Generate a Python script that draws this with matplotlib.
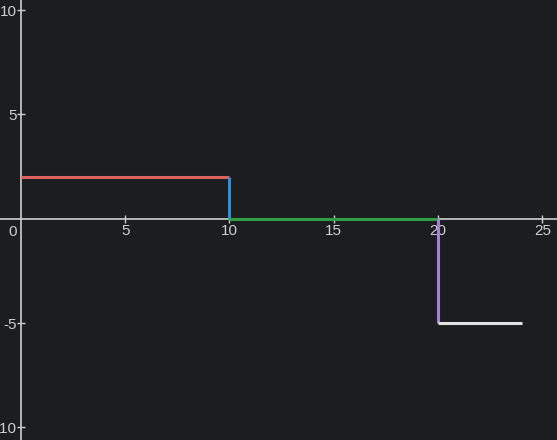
import matplotlib
matplotlib.use("Agg")
import matplotlib.pyplot as plt

# segments of the step path
seg_x = [[0, 10], [10, 10], [10, 20], [20, 20], [20, 24]]
seg_y = [[2, 2], [2, 0], [0, 0], [0, -5], [-5, -5]]
seg_colors = ["#dc635c", "#2f8fdb", "#2ea043", "#a77fd8", "#e2e2e2"]

x_ticks = [5, 10, 15, 20, 25]
y_ticks = [-10, -5, 5, 10]

bg = "#1c1d1f"
fg = "#cfcfcf"

plt.rcParams["font.family"] = ["Liberation Sans", "DejaVu Sans"]
plt.rcParams["axes.unicode_minus"] = False

fig = plt.figure(figsize=(5.57, 4.40), dpi=100, facecolor=bg)
ax = fig.add_axes([0, 0, 1, 1], facecolor=bg)

for xs, ys, c in zip(seg_x, seg_y, seg_colors):
    ax.plot(xs, ys, color=c, lw=2.2, solid_capstyle="butt", zorder=3)

ax.set_xlim(-1.0, 25.7)
ax.set_ylim(-10.6, 10.48)

ax.spines["left"].set_position(("data", 0))
ax.spines["bottom"].set_position(("data", 0))
ax.spines["right"].set_visible(False)
ax.spines["top"].set_visible(False)
for s in ("left", "bottom"):
    ax.spines[s].set_color(fg)
    ax.spines[s].set_linewidth(1.2)

ax.set_xticks(x_ticks)
ax.set_yticks(y_ticks)
ax.tick_params(colors=fg, labelcolor=fg, labelsize=11, direction="inout",
               length=6, width=1)
ax.tick_params(axis="x", pad=1)
ax.tick_params(axis="y", pad=0)

ax.text(-0.38, -0.3, "0", color=fg, fontsize=11, ha="center", va="top")

fig.savefig("out.png", dpi=100, facecolor=bg)
